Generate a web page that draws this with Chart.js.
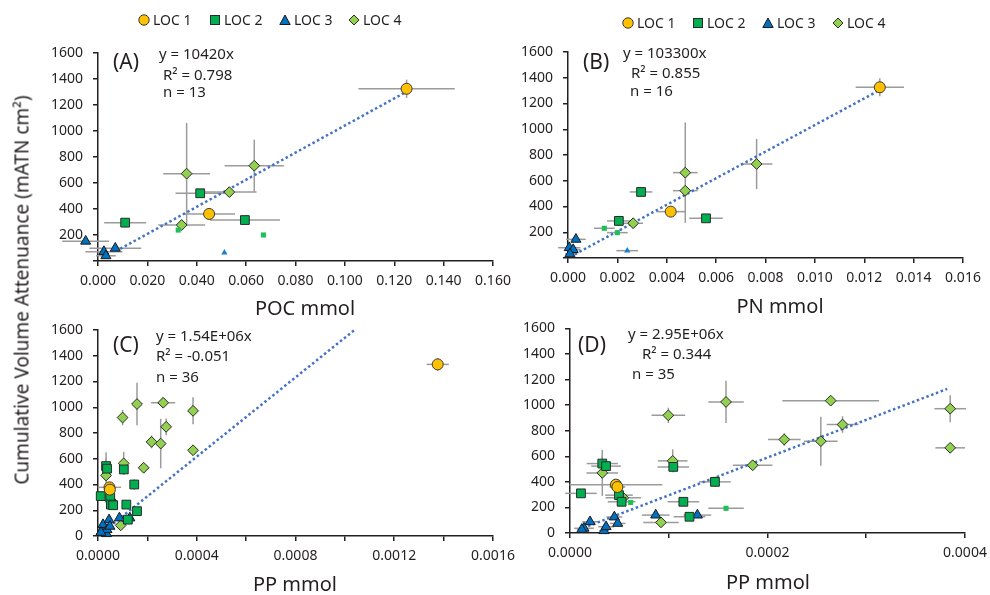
<!DOCTYPE html>
<html>
<head>
<meta charset="utf-8">
<script src="https://cdn.jsdelivr.net/npm/chart.js@4.4.1/dist/chart.umd.min.js"></script>
<style>
  html, body { margin: 0; padding: 0; background: #fff; overflow: hidden; }
  body { width: 990px; height: 595px; position: relative; font-family: 'Noto Sans', sans-serif; color: #231f20; }
  canvas { position: absolute; }
  .txt { position: absolute; white-space: nowrap; line-height: 1; }
  .legend-item { position: absolute; display: flex; align-items: center; font-size: 14px; line-height: 1; }
  .legend-item svg { margin-right: 3px; }
</style>
</head>
<body>
<canvas id="chartA" width="530" height="290" style="left:0;top:30px"></canvas>
<canvas id="chartB" width="520" height="290" style="left:500px;top:30px"></canvas>
<canvas id="chartC" width="530" height="265" style="left:0;top:310px"></canvas>
<canvas id="chartD" width="520" height="265" style="left:500px;top:310px"></canvas>
<div id="overlay"></div>

<script>
// each point: [x, y, xErr, yErr]

// (A) POC mmol
const pocLoc1 = [[0.125, 1325, 0.0195, 70], [0.045, 362, 0.0105, 25]];
const pocLoc2 = [[0.0414, 521, 0.010, 25], [0.011, 295, 0.0085, 35], [0.0595, 315, 0.0142, 20]];
const pocLoc2Small = [[0.0325, 238, 0, 0], [0.067, 200, 0, 0]];
const pocLoc3 = [[-0.005, 152, 0.0095, 0], [0.0024, 72, 0.0075, 0], [0.0032, 40, 0.004, 0], [0.007, 98, 0.0105, 0]];
const pocLoc3Small = [[0.0512, 64, 0, 0]];
const pocLoc4 = [[0.0359, 672, 0.0095, 390], [0.0633, 733, 0.012, 200], [0.0532, 530, 0.011, 35], [0.0339, 277, 0.0095, 0]];

// (B) PN mmol
const pnLoc1 = [[0.01263, 1326, 0.00098, 70], [0.00416, 360, 0.00058, 20]];
const pnLoc2 = [[0.00296, 513, 0.00046, 25], [0.00206, 288, 0.00048, 40], [0.00559, 308, 0.00068, 20]];
const pnLoc2Small = [[0.00147, 231, 0.00042, 0], [0.00200, 197, 0.00042, 0]];
const pnLoc3 = [[0.00032, 145, 0.0004, 0], [0.00005, 80, 0.00045, 0], [0.00021, 65, 0.0003, 0], [0.00008, 32, 0.0002, 0]];
const pnLoc3Small = [[0.0024, 57, 0.00044, 0]];
const pnLoc4 = [[0.00475, 663, 0.0005, 390], [0.00475, 523, 0.0005, 30], [0.00764, 730, 0.00064, 195], [0.00264, 270, 0.0004, 0]];

// (C) and (D) PP mmol
const ppLoc1 = [[0.0000465, 378, 0.000047, 0], [0.000048, 360, 0.000008, 20]];
const ppLoc1Far = [[0.001376, 1333, 0.000045, 50]];
const ppLoc2 = [[0.0000327, 543, 0.0000158, 60], [0.0000365, 523, 0.000015, 0], [0.0000111, 310, 0.000016, 0],
  [0.0000496, 296, 0.000014, 0], [0.0000523, 244, 0.000014, 0], [0.0001046, 517, 0.000016, 0],
  [0.0001468, 400, 0.000016, 40], [0.0001148, 244, 0.000016, 0], [0.000121, 127, 0.000016, 0]];
const ppLoc2Extra = [[0.0000614, 239, 0, 0], [0.000158, 193, 0.000018, 0]];
const ppLoc3 = [[0.0000142, 37, 0.00001, 0], [0.0000203, 88, 0.000008, 0], [0.0000344, 18, 0.000005, 0],
  [0.0000365, 49, 0.000008, 0], [0.0000449, 125, 0.000008, 0], [0.0000483, 75, 0.000008, 0],
  [0.0000868, 140, 0.000014, 0], [0.000129, 140, 0.000014, 0], [0.000012, 28, 0.000005, 0]];
const ppLoc4 = [[0.0000996, 920, 0.000017, 60], [0.000158, 1025, 0.000018, 165], [0.000264, 1035, 0.000049, 0],
  [0.000385, 972, 0.000016, 105], [0.000385, 666, 0.000015, 0], [0.000276, 848, 0.000016, 65],
  [0.000217, 731, 0.0000165, 50], [0.000254, 718, 0.000017, 192], [0.000185, 530, 0.00002, 0],
  [0.000104, 564, 0.000015, 90], [0.0000327, 470, 0.000016, 180], [0.000054, 275, 0.000018, 0],
  [0.0000921, 83, 0.000018, 0]];

// fitted lines y = slope * x, drawn over [from, to]
const trendSlopes = [10420, 103300, 1.54e6, 2.95e6];
const trendRanges = [[0.009, 0.125], [0.00028, 0.0125], [0.00003, 0.001037], [0.0000135, 0.000382]];

const panelLabels = ['(A)', '(B)', '(C)', '(D)'];
const fitEquations = ['y = 10420x', 'y = 103300x', 'y = 1.54E+06x', 'y = 2.95E+06x'];
const fitR2 = ['0.798', '0.855', '-0.051', '0.344'];
const fitN = ['13', '16', '36', '35'];
const xTitles = ['POC mmol', 'PN mmol', 'PP mmol', 'PP mmol'];
const yTitle = 'Cumulative Volume Attenuance (mATN cm²)';
const legendNames = ['LOC 1', 'LOC 2', 'LOC 3', 'LOC 4'];

const ink = '#231f20';
Chart.defaults.font.family = "'Noto Sans', sans-serif";
Chart.defaults.font.size = 14;
Chart.defaults.color = ink;

const styles = {
  loc1: { pointStyle: 'circle', pointRadius: 5.5, backgroundColor: '#FFC000', borderColor: '#3a3a3a', borderWidth: 1 },
  loc2: { pointStyle: 'rect', pointRadius: 6.2, backgroundColor: '#00B050', borderColor: '#2a2a2a', borderWidth: 1 },
  loc3: { pointStyle: 'triangle', pointRadius: 5.8, backgroundColor: '#0070C0', borderColor: '#1a1a1a', borderWidth: 1 },
  loc4: { pointStyle: 'rectRot', pointRadius: 5.4, backgroundColor: '#92D050', borderColor: '#2a2a2a', borderWidth: 1 },
  loc2Small: { pointStyle: 'rect', pointRadius: 3.6, backgroundColor: '#1fbf5a', borderColor: '#1fbf5a', borderWidth: 0 },
  loc3Small: { pointStyle: 'triangle', pointRadius: 3.6, backgroundColor: '#1a7fd0', borderColor: '#1a7fd0', borderWidth: 0 }
};

function series(rows, style) {
  return Object.assign({
    data: rows.map(r => ({ x: r[0], y: r[1], xe: r[2], ye: r[3] })),
    clip: false,
    order: 1
  }, style);
}

function trend(i) {
  const s = trendSlopes[i];
  const [a, b] = trendRanges[i];
  return {
    data: [{ x: a, y: s * a }, { x: b, y: s * b }],
    showLine: true, pointRadius: 0, borderColor: '#4472C4', borderWidth: 2.5,
    borderDash: [2.5, 2.6], fill: false, clip: false, order: 5
  };
}

// grey error bars behind the markers
const errorBars = {
  id: 'errorBars',
  beforeDatasetsDraw(chart) {
    const { ctx, scales: { x, y } } = chart;
    ctx.save();
    ctx.strokeStyle = '#9b9b9b';
    ctx.lineWidth = 1.5;
    chart.data.datasets.forEach(ds => {
      ds.data.forEach(p => {
        if (p.xe) {
          const py = y.getPixelForValue(p.y);
          ctx.beginPath();
          ctx.moveTo(x.getPixelForValue(p.x - p.xe), py);
          ctx.lineTo(x.getPixelForValue(p.x + p.xe), py);
          ctx.stroke();
        }
        if (p.ye) {
          const px = x.getPixelForValue(p.x);
          ctx.beginPath();
          ctx.moveTo(px, y.getPixelForValue(p.y - p.ye));
          ctx.lineTo(px, y.getPixelForValue(p.y + p.ye));
          ctx.stroke();
        }
      });
    });
    ctx.restore();
  },
  // Chart.js skips points lying outside the chart area; Excel still shows them
  afterDatasetsDraw(chart) {
    const a = chart.chartArea;
    const wide = { left: -1e4, top: -1e4, right: 1e4, bottom: 1e4 };
    chart.data.datasets.forEach((ds, i) => {
      chart.getDatasetMeta(i).data.forEach(el => {
        if (el.x < a.left || el.x > a.right || el.y < a.top || el.y > a.bottom) el.draw(chart.ctx, wide);
      });
    });
  }
};

function buildPanel(cfg) {
  const axisLine = { color: ink, width: 1.5 };
  const tickMarks = { drawOnChartArea: false, drawTicks: true, tickLength: 5, color: ink, lineWidth: 1.5 };
  new Chart(document.getElementById(cfg.id), {
    type: 'scatter',
    data: { datasets: cfg.datasets },
    options: {
      responsive: false,
      animation: false,
      layout: { padding: { left: 0, top: cfg.padTop, right: cfg.padRight, bottom: 0 } },
      plugins: { legend: { display: false }, tooltip: { enabled: false } },
      scales: {
        x: {
          type: 'linear', min: 0, max: cfg.xMax,
          afterFit: s => { s.height = cfg.xHeight; },
          ticks: {
            stepSize: cfg.xStep, autoSkip: false, maxRotation: 0, padding: 7,
            callback: (v, i) => (i % cfg.labelEvery === 0 ? v.toFixed(cfg.decimals) : '')
          },
          grid: tickMarks, border: axisLine
        },
        y: {
          type: 'linear', min: 0, max: 1600,
          afterFit: s => { s.width = cfg.yWidth; },
          ticks: { stepSize: 200, padding: 10, callback: v => (v === 0 && cfg.hideZero ? '' : v) },
          grid: tickMarks, border: axisLine
        }
      }
    },
    plugins: [errorBars]
  });
}

buildPanel({
  id: 'chartA', padTop: 23, padRight: 37, yWidth: 98, xHeight: 59,
  xMax: 0.16, xStep: 0.02, labelEvery: 1, decimals: 3, hideZero: true,
  datasets: [trend(0), series(pocLoc1, styles.loc1), series(pocLoc2, styles.loc2), series(pocLoc2Small, styles.loc2Small),
    series(pocLoc3, styles.loc3), series(pocLoc3Small, styles.loc3Small), series(pocLoc4, styles.loc4)]
});
buildPanel({
  id: 'chartB', padTop: 22, padRight: 57, yWidth: 68, xHeight: 62,
  xMax: 0.016, xStep: 0.002, labelEvery: 1, decimals: 3, hideZero: true,
  datasets: [trend(1), series(pnLoc1, styles.loc1), series(pnLoc2, styles.loc2), series(pnLoc2Small, styles.loc2Small),
    series(pnLoc3, styles.loc3), series(pnLoc3Small, styles.loc3Small), series(pnLoc4, styles.loc4)]
});
buildPanel({
  id: 'chartC', padTop: 20, padRight: 37, yWidth: 98, xHeight: 39,
  xMax: 0.0016, xStep: 0.0002, labelEvery: 2, decimals: 4, hideZero: false,
  datasets: [trend(2), series(ppLoc1.concat(ppLoc1Far), styles.loc1), series(ppLoc2.concat(ppLoc2Extra), styles.loc2),
    series(ppLoc3, styles.loc3), series(ppLoc4, styles.loc4)]
});
buildPanel({
  id: 'chartD', padTop: 18, padRight: 55, yWidth: 70, xHeight: 42,
  xMax: 0.0004, xStep: 0.0001, labelEvery: 2, decimals: 4, hideZero: false,
  datasets: [trend(3), series(ppLoc1, styles.loc1), series(ppLoc2, styles.loc2), series(ppLoc2Extra, styles.loc2Small),
    series(ppLoc3, styles.loc3), series(ppLoc4, styles.loc4)]
});

// text overlays
const overlay = document.getElementById('overlay');
function addText(str, left, cy, size, center) {
  const d = document.createElement('div');
  d.className = 'txt';
  d.textContent = str;
  d.style.fontSize = size + 'px';
  d.style.left = left + 'px';
  d.style.top = (cy - size * 0.53) + 'px';
  if (center) d.style.transform = 'translateX(-50%)';
  overlay.appendChild(d);
}

const annoPos = [
  { lab: [113, 62], eq: [159, 54], r2: [163, 75], n: [163, 92] },
  { lab: [583, 62], eq: [623, 53], r2: [631, 73], n: [630, 91] },
  { lab: [113, 345], eq: [156, 336], r2: [156, 356], n: [156, 377] },
  { lab: [578, 345], eq: [628, 334], r2: [642, 354], n: [632, 374] }
];
annoPos.forEach((p, i) => {
  addText(panelLabels[i], p.lab[0], p.lab[1], 21);
  addText(fitEquations[i], p.eq[0], p.eq[1], 15);
  addText('R² = ' + fitR2[i], p.r2[0], p.r2[1], 15);
  addText('n = ' + fitN[i], p.n[0], p.n[1], 15);
});

const titlePos = [[305, 309], [780, 307], [295, 585], [768, 583]];
titlePos.forEach((p, i) => addText(xTitles[i], p[0], p[1], 20, true));

const yt = document.createElement('div');
yt.className = 'txt';
yt.textContent = yTitle;
yt.style.fontSize = '19px';
yt.style.left = '22px';
yt.style.top = '290px';
yt.style.transform = 'translate(-50%, -50%) rotate(-90deg)';
overlay.appendChild(yt);

// legends above the two top panels
const markerSvg = [
  '<circle cx="6" cy="6" r="5.2" fill="#FFC000" stroke="#3a3a3a" stroke-width="1"/>',
  '<rect x="1.5" y="1.5" width="9" height="9" fill="#00B050" stroke="#2a2a2a" stroke-width="1"/>',
  '<polygon points="6,1 11.2,10.5 0.8,10.5" fill="#0070C0" stroke="#1a1a1a" stroke-width="1"/>',
  '<polygon points="6,1 11,6 6,11 1,6" fill="#92D050" stroke="#2a2a2a" stroke-width="1"/>'
];
function addLegend(xs, cy) {
  xs.forEach((x, i) => {
    const d = document.createElement('div');
    d.className = 'legend-item';
    d.style.left = (x - 6) + 'px';
    d.style.top = (cy - 7) + 'px';
    d.innerHTML = '<svg width="12" height="12">' + markerSvg[i] + '</svg><span>' + legendNames[i] + '</span>';
    overlay.appendChild(d);
  });
}
addLegend([144, 215, 285, 354], 20);
addLegend([628, 698, 768, 838], 23);
</script>
</body>
</html>
